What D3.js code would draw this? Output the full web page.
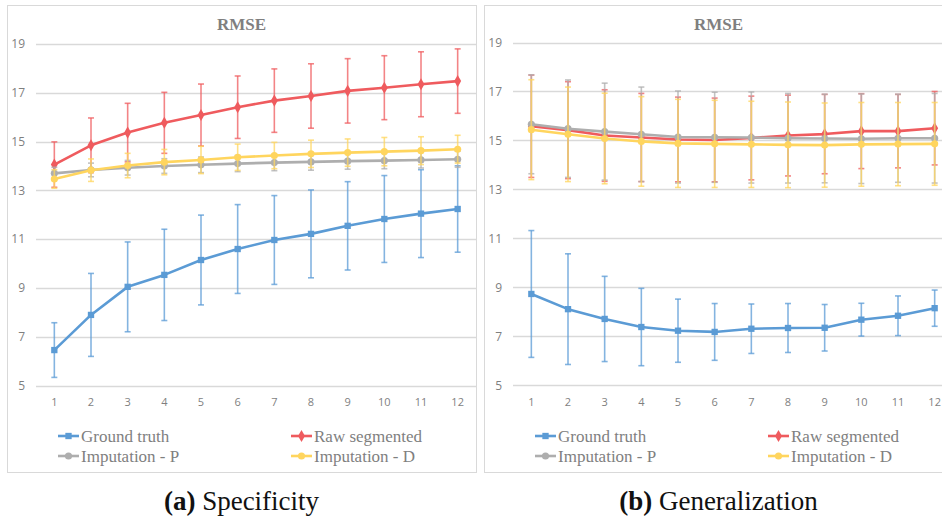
<!DOCTYPE html>
<html>
<head>
<meta charset="utf-8">
<script src="https://cdn.jsdelivr.net/npm/d3@7"></script>
<style>
  body { margin: 0; background: #fff; overflow: hidden; }
  svg { display: block; }
</style>
</head>
<body>
<div id="chart"></div>
<script>
// x categories and y ticks
const categories = [1, 2, 3, 4, 5, 6, 7, 8, 9, 10, 11, 12];
const yTicks = [5, 7, 9, 11, 13, 15, 17, 19];
const seriesNames = ["Ground truth", "Raw segmented", "Imputation - P", "Imputation - D"];

// (a) Specificity
const specGround = [6.46, 7.90, 9.05, 9.54, 10.15, 10.60, 10.97, 11.22, 11.55, 11.83, 12.05, 12.24];
const specGroundErr = [1.12, 1.70, 1.84, 1.87, 1.84, 1.82, 1.82, 1.80, 1.81, 1.78, 1.80, 1.77];
const specRaw = [14.06, 14.85, 15.37, 15.77, 16.09, 16.41, 16.68, 16.87, 17.08, 17.21, 17.35, 17.48];
const specRawErr = [0.93, 1.12, 1.20, 1.25, 1.27, 1.28, 1.30, 1.32, 1.32, 1.31, 1.33, 1.32];
const specP = [13.70, 13.84, 13.93, 14.00, 14.05, 14.10, 14.14, 14.17, 14.20, 14.22, 14.25, 14.28];
const specPErr = [0.25, 0.28, 0.30, 0.30, 0.32, 0.33, 0.33, 0.34, 0.33, 0.33, 0.33, 0.33];
const specD = [13.47, 13.83, 14.02, 14.16, 14.25, 14.36, 14.43, 14.50, 14.55, 14.59, 14.63, 14.69];
const specDErr = [0.38, 0.46, 0.50, 0.52, 0.56, 0.54, 0.54, 0.56, 0.56, 0.58, 0.57, 0.57];

// (b) Generalization
const genGround = [8.73, 8.11, 7.71, 7.38, 7.23, 7.18, 7.31, 7.34, 7.35, 7.68, 7.84, 8.15];
const genGroundErr = [2.59, 2.26, 1.74, 1.58, 1.29, 1.16, 1.01, 1.00, 0.95, 0.67, 0.81, 0.74];
const genRaw = [15.58, 15.42, 15.20, 15.12, 15.04, 15.02, 15.10, 15.20, 15.26, 15.38, 15.38, 15.50];
const genRawErr = [2.09, 1.98, 1.87, 1.80, 1.73, 1.71, 1.71, 1.65, 1.62, 1.53, 1.50, 1.50];
const genP = [15.66, 15.48, 15.36, 15.25, 15.14, 15.13, 15.12, 15.09, 15.08, 15.07, 15.09, 15.09];
const genPErr = [2.02, 1.99, 1.98, 1.93, 1.88, 1.84, 1.86, 1.83, 1.81, 1.83, 1.80, 1.83];
const genD = [15.44, 15.25, 15.08, 14.96, 14.88, 14.86, 14.84, 14.82, 14.81, 14.84, 14.85, 14.86];
const genDErr = [2.04, 1.93, 1.85, 1.83, 1.80, 1.78, 1.76, 1.75, 1.72, 1.71, 1.70, 1.69];

const colors = ["#5B9BD5", "#EF5B5E", "#AEAEAE", "#FFD55E"];
const markers = [d3.symbolSquare, d3.symbolDiamond, d3.symbolCircle, d3.symbolCircle];
const markerSize = [40, 42, 40, 40];

const width = 942, height = 519;

const svg = d3.select("#chart").append("svg")
    .attr("width", width)
    .attr("height", height);

function drawPanel(opts) {
    const { left, ySpan, series, errs, caption, bold } = opts;
    const g = svg.append("g").attr("transform", `translate(${left},0)`);

    // panel frame
    g.append("rect")
        .attr("x", 0.5).attr("y", 5.5)
        .attr("width", 469).attr("height", 467)
        .attr("fill", "#fff")
        .attr("stroke", "#D9D9D9");

    const x = d3.scaleBand().domain(categories).range([29, 469]);
    const y = d3.scaleLinear().domain([5, 19]).range(ySpan);
    const cx = d => x(d) + x.bandwidth() / 2;

    // gridlines
    g.append("g").selectAll("line")
        .data(yTicks).enter().append("line")
        .attr("x1", 29).attr("x2", 469)
        .attr("y1", d => Math.round(y(d)) + 0.5)
        .attr("y2", d => Math.round(y(d)) + 0.5)
        .attr("stroke", "#D9D9D9")
        .attr("stroke-width", 1.3);

    // y axis labels
    g.append("g").selectAll("text")
        .data(yTicks).enter().append("text")
        .attr("x", 18).attr("y", d => y(d))
        .attr("dy", "0.35em")
        .attr("text-anchor", "end")
        .attr("font-family", "'Open Sans', 'Liberation Sans', sans-serif")
        .attr("font-size", 12)
        .attr("fill", "#7F7F7F")
        .text(d => d);

    // x axis labels
    g.append("g").selectAll("text")
        .data(categories).enter().append("text")
        .attr("x", d => cx(d)).attr("y", 402)
        .attr("dy", "0.35em")
        .attr("text-anchor", "middle")
        .attr("font-family", "'Open Sans', 'Liberation Sans', sans-serif")
        .attr("font-size", 11)
        .attr("fill", "#7F7F7F")
        .text(d => d);

    // title
    g.append("text")
        .attr("x", 234.5).attr("y", 30)
        .attr("text-anchor", "middle")
        .attr("font-family", "'Liberation Serif', serif")
        .attr("font-weight", "bold")
        .attr("font-size", 17)
        .attr("fill", "#7F7F7F")
        .text("RMSE");

    const line = d3.line().x(d => cx(d.c)).y(d => y(d.v));

    series.forEach((vals, i) => {
        const pts = categories.map((c, j) => ({ c, v: vals[j], e: errs[i][j] }));
        const sg = g.append("g");

        // error bars
        const eb = sg.append("g")
            .attr("stroke", colors[i])
            .attr("stroke-width", 1.6)
            .attr("stroke-opacity", 0.75);
        eb.selectAll("line.bar").data(pts).enter().append("line")
            .attr("class", "bar")
            .attr("x1", d => cx(d.c)).attr("x2", d => cx(d.c))
            .attr("y1", d => y(d.v - d.e)).attr("y2", d => y(d.v + d.e));
        [-1, 1].forEach(s => {
            eb.selectAll("line.cap" + s).data(pts).enter().append("line")
                .attr("x1", d => cx(d.c) - 3).attr("x2", d => cx(d.c) + 3)
                .attr("y1", d => y(d.v + s * d.e)).attr("y2", d => y(d.v + s * d.e));
        });

        sg.append("path")
            .datum(pts)
            .attr("d", line)
            .attr("fill", "none")
            .attr("stroke", colors[i])
            .attr("stroke-width", 2.6)
            .attr("stroke-linejoin", "round");

        sg.selectAll("path.mk").data(pts).enter().append("path")
            .attr("class", "mk")
            .attr("transform", d => `translate(${cx(d.c)},${y(d.v)})`)
            .attr("d", d3.symbol().type(markers[i]).size(markerSize[i]))
            .attr("fill", colors[i]);
    });

    // legend
    const legPos = [[51, 430], [284, 430], [51, 450], [284, 450]];
    seriesNames.forEach((name, i) => {
        const lg = g.append("g")
            .attr("transform", `translate(${legPos[i][0]},${legPos[i][1]})`);
        lg.append("line")
            .attr("x1", 0).attr("x2", 21).attr("y1", 6).attr("y2", 6)
            .attr("stroke", colors[i]).attr("stroke-width", 2.6);
        lg.append("path")
            .attr("transform", "translate(10.5,6)")
            .attr("d", d3.symbol().type(markers[i]).size(markerSize[i]))
            .attr("fill", colors[i]);
        lg.append("text")
            .attr("x", 23).attr("y", 6)
            .attr("dy", "0.35em")
            .attr("font-family", "'Liberation Serif', serif")
            .attr("font-size", 17)
            .attr("fill", "#7F7F7F")
            .text(name);
    });

    // caption under the panel
    const cap = svg.append("text")
        .attr("x", left + 234.5).attr("y", 510)
        .attr("text-anchor", "middle")
        .attr("font-family", "'Liberation Serif', serif")
        .attr("font-size", 27)
        .attr("fill", "#111");
    cap.append("tspan").attr("font-weight", "bold").text(bold);
    cap.append("tspan").text(" " + caption);
}

drawPanel({
    left: 7, ySpan: [385.7, 44],
    series: [specGround, specRaw, specP, specD],
    errs: [specGroundErr, specRawErr, specPErr, specDErr],
    bold: "(a)", caption: "Specificity"
});

drawPanel({
    left: 484, ySpan: [385.3, 42.5],
    series: [genGround, genRaw, genP, genD],
    errs: [genGroundErr, genRawErr, genPErr, genDErr],
    bold: "(b)", caption: "Generalization"
});
</script>
</body>
</html>
